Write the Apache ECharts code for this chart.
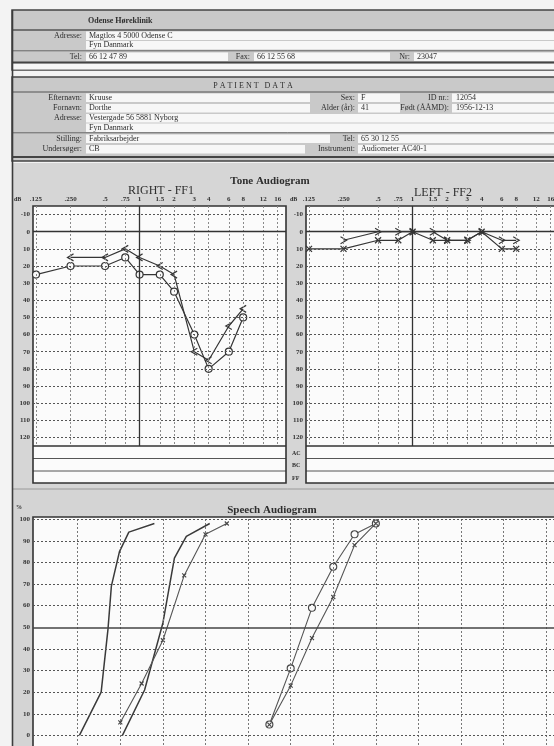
<!DOCTYPE html>
<html>
<head>
<meta charset="utf-8">
<script src="https://cdn.jsdelivr.net/npm/echarts@6/dist/echarts.min.js"></script>
<style>
  html, body { margin: 0; padding: 0; overflow: hidden; background: #f3f3f3; }
  #c { width: 562px; height: 800px; }
</style>
</head>
<body>
<div id="c"></div>
<script>
// ---- Tone audiogram axes ----
const toneFreqs = [125, 250, 500, 750, 1000, 1500, 2000, 3000, 4000, 6000, 8000, 12000, 16000];
const toneFreqLabels = ['.125', '.250', '.5', '.75', '1', '1.5', '2', '3', '4', '6', '8', '12', '16'];
const dbTicks = [-10, 0, 10, 20, 30, 40, 50, 60, 70, 80, 90, 100, 110, 120];

// ---- RIGHT - FF1 ----
const rightAirFreq = [125, 250, 500, 750, 1000, 1500, 2000, 3000, 4000, 6000, 8000];
const rightAirDb   = [25, 20, 20, 15, 25, 25, 35, 60, 80, 70, 50];
const rightBoneFreq = [250, 500, 750, 1000, 1500, 2000, 3000, 4000, 6000, 8000];
const rightBoneDb   = [15, 15, 10, 15, 20, 25, 70, 75, 55, 45];

// ---- LEFT - FF2 ----
const leftAirFreq = [125, 250, 500, 750, 1000, 1500, 2000, 3000, 4000, 6000, 8000];
const leftAirDb   = [10, 10, 5, 5, 0, 5, 5, 5, 0, 10, 10];
const leftBoneFreq = [250, 500, 750, 1000, 1500, 2000, 3000, 4000, 6000, 8000];
const leftBoneDb   = [5, 0, 0, 0, 0, 5, 5, 0, 5, 5];

// ---- Speech audiogram ----
const speechDbTicks = [10, 20, 30, 40, 50, 60, 70, 80, 90, 100, 110, 120];
const speechPctTicks = [0, 10, 20, 30, 40, 50, 60, 70, 80, 90, 100];
const normRefADb  = [10.4, 15.5, 17.1, 17.9, 19.8, 22, 28];
const normRefAPct = [0, 20, 49, 69, 85, 94, 98];
const normRefBDb  = [20.5, 25.7, 30, 32.7, 35.5, 41];
const normRefBPct = [0, 21, 52, 82, 92, 98];
const speechRefCDb  = [20, 25, 30, 35, 40, 45];
const speechRefCPct = [6, 24, 44, 74, 93, 98];
const speechRightDb  = [55, 60, 65, 70, 75, 80];
const speechRightPct = [5, 31, 59, 78, 93, 98];
const speechLeftDb  = [55, 60, 65, 70, 75, 80];
const speechLeftPct = [5, 23, 45, 64, 88, 98];

const zip = (a, b) => a.map((v, i) => [v, b[i]]);

const INK = '#353535';
const SERIF = '"Liberation Serif", "DejaVu Serif", serif';

// ---- form drawing helpers ----
const rectEl = (x, y, w, h, fill, stroke, lw, z) => ({
  type: 'rect', silent: true, z: z == null ? -5 : z,
  shape: { x, y, width: w, height: h },
  style: { fill: fill || 'none', stroke: stroke || 'none', lineWidth: lw || 0 }
});
const lineEl = (x1, y1, x2, y2, stroke, lw, z) => ({
  type: 'line', silent: true, z: z == null ? -4 : z,
  shape: { x1, y1, x2, y2 },
  style: { stroke, lineWidth: lw }
});
const textEl = (x, y, text, opt) => ({
  type: 'text', silent: true, z: 6, x, y,
  style: Object.assign({
    text, fill: '#2e2e2e', font: '8px ' + SERIF,
    textAlign: 'left', align: 'left', textVerticalAlign: 'middle', verticalAlign: 'middle'
  }, opt || {})
});
const rText = (x, y, text, opt) => textEl(x, y, text, Object.assign({ textAlign: 'right', align: 'right' }, opt || {}));
const cText = (x, y, text, opt) => textEl(x, y, text, Object.assign({ textAlign: 'center', align: 'center' }, opt || {}));

const GRAY = '#c9c9c9';
const FIELD = '#f7f7f7';
const g = [];

// clinic header
g.push(rectEl(12, 10, 560, 60, GRAY, '#444', 1.5));
g.push(textEl(88, 21, 'Odense Høreklinik', { font: 'bold 8px ' + SERIF }));
g.push(lineEl(12, 30, 572, 30, '#555', 1.5));
g.push(rectEl(86, 31.5, 480, 8.5, FIELD));
g.push(rectEl(86, 41, 480, 8.5, FIELD));
g.push(lineEl(12, 50.8, 572, 50.8, '#666', 1));
g.push(rectEl(86, 52.5, 142, 8.5, FIELD));
g.push(rectEl(254, 52.5, 136, 8.5, FIELD));
g.push(rectEl(414, 52.5, 160, 8.5, FIELD));
g.push(lineEl(12, 62.5, 572, 62.5, '#444', 2));
g.push(rectEl(13, 63.5, 560, 6, FIELD));
g.push(rText(82, 36, 'Adresse:'));
g.push(textEl(89, 36, 'Magtlos 4 5000 Odense C'));
g.push(textEl(89, 45.3, 'Fyn Danmark'));
g.push(rText(82, 57, 'Tel:'));
g.push(textEl(89, 57, '66 12 47 89'));
g.push(rText(250, 57, 'Fax:'));
g.push(textEl(257, 57, '66 12 55 68'));
g.push(rText(410, 57, 'Nr:'));
g.push(textEl(417, 57, '23047'));

// patient data block
g.push(rectEl(12, 77, 560, 84, GRAY, '#444', 1.5));
g.push(cText(253, 85.5, 'P A T I E N T   D A T A', { font: '8px ' + SERIF }));
g.push(lineEl(12, 92, 572, 92, '#555', 1.2));
const rowsY = [93.5, 104, 114, 123.5, 134.5, 145];
g.push(rectEl(86, rowsY[0], 224, 8.5, FIELD));
g.push(rectEl(358, rowsY[0], 42, 8.5, FIELD));
g.push(rectEl(452, rowsY[0], 120, 8.5, FIELD));
g.push(rectEl(86, rowsY[1], 224, 8.5, FIELD));
g.push(rectEl(358, rowsY[1], 42, 8.5, FIELD));
g.push(rectEl(452, rowsY[1], 120, 8.5, FIELD));
g.push(rectEl(86, rowsY[2], 486, 8.5, FIELD));
g.push(rectEl(86, rowsY[3], 486, 8.5, FIELD));
g.push(lineEl(12, 132.8, 572, 132.8, '#666', 1));
g.push(rectEl(86, rowsY[4], 244, 8.5, FIELD));
g.push(rectEl(358, rowsY[4], 214, 8.5, FIELD));
g.push(rectEl(86, rowsY[5], 219, 8.5, FIELD));
g.push(rectEl(358, rowsY[5], 214, 8.5, FIELD));
g.push(lineEl(12, 157, 572, 157, '#444', 2));
const ry = rowsY.map(v => v + 4.4);
g.push(rText(82, ry[0], 'Efternavn:'));  g.push(textEl(89, ry[0], 'Kruuse'));
g.push(rText(355, ry[0], 'Sex:'));       g.push(textEl(361, ry[0], 'F'));
g.push(rText(449, ry[0], 'ID nr.:'));    g.push(textEl(456, ry[0], '12054'));
g.push(rText(82, ry[1], 'Fornavn:'));    g.push(textEl(89, ry[1], 'Dorthe'));
g.push(rText(355, ry[1], 'Alder (år):')); g.push(textEl(361, ry[1], '41'));
g.push(rText(449, ry[1], 'Født (ÅÅMD):')); g.push(textEl(456, ry[1], '1956-12-13'));
g.push(rText(82, ry[2], 'Adresse:'));    g.push(textEl(89, ry[2], 'Vestergade 56 5881 Nyborg'));
g.push(textEl(89, ry[3], 'Fyn Danmark'));
g.push(rText(82, ry[4], 'Stilling:'));   g.push(textEl(89, ry[4], 'Fabriksarbejder'));
g.push(rText(355, ry[4], 'Tel:'));       g.push(textEl(361, ry[4], '65 30 12 55'));
g.push(rText(82, ry[5], 'Undersøger:')); g.push(textEl(89, ry[5], 'CB'));
g.push(rText(355, ry[5], 'Instrument:')); g.push(textEl(361, ry[5], 'Audiometer AC40-1'));

// tone audiogram section
g.push(rectEl(12, 163, 560, 326, '#d6d6d6'));
g.push(cText(270, 181, 'Tone Audiogram', { font: 'bold 11px ' + SERIF }));
g.push(cText(161, 191, 'RIGHT - FF1', { font: '12px ' + SERIF }));
g.push(cText(443, 192.5, 'LEFT - FF2', { font: '12px ' + SERIF }));
g.push(textEl(14, 199, 'dB', { font: 'bold 6px ' + SERIF }));
g.push(textEl(290, 199, 'dB', { font: 'bold 6px ' + SERIF }));
[33, 306].forEach(x0 => {
  g.push(rectEl(x0, 206, 253, 277, '#fbfbfb'));
  g.push(lineEl(x0, 446, x0 + 253, 446, '#333', 1.6, 3));
  g.push(lineEl(x0, 458.5, x0 + 253, 458.5, '#555', 1, 3));
  g.push(lineEl(x0, 471, x0 + 253, 471, '#555', 1, 3));
  g.push(rectEl(x0, 206, 253, 277, null, '#333', 1.6, 3));
});
g.push(textEl(292, 453, 'AC', { font: 'bold 6px ' + SERIF }));
g.push(textEl(292, 465, 'BC', { font: 'bold 6px ' + SERIF }));
g.push(textEl(292, 478, 'FF', { font: 'bold 6px ' + SERIF }));

// speech audiogram section
g.push(rectEl(12, 489, 560, 320, '#d4d4d4'));
g.push(lineEl(12, 489, 572, 489, '#9a9a9a', 1));
g.push(cText(272, 510, 'Speech Audiogram', { font: 'bold 11px ' + SERIF }));
g.push(textEl(16, 507, '%', { font: 'bold 6px ' + SERIF }));
g.push(rectEl(33, 517, 526, 260, '#fbfbfb'));
g.push(rectEl(33, 517, 526, 260, null, '#333', 1.6, 3));

// left border of the form
g.push(lineEl(12.5, 10, 12.5, 800, '#3c3c3c', 1.6, 3));

// ---- axis / grid helpers ----
const freqMin = 117.7, freqMax = 18900;
const labelFont = { fontSize: 7, fontFamily: SERIF, fontWeight: 'bold', color: '#333' };

function toneX(gridIndex) {
  return {
    type: 'log', logBase: 2, gridIndex, min: freqMin, max: freqMax, position: 'top',
    axisLine: { show: false }, axisTick: { show: false },
    splitLine: { show: false }, minorSplitLine: { show: false },
    axisLabel: Object.assign({
      customValues: toneFreqs, margin: 3,
      formatter: v => {
        const i = toneFreqs.findIndex(f => Math.abs(f - v) < 1);
        return i < 0 ? '' : toneFreqLabels[i];
      }
    }, labelFont)
  };
}
function toneY(gridIndex) {
  return {
    type: 'value', gridIndex, inverse: true, min: -15, max: 125,
    axisLine: { show: false }, axisTick: { show: false }, splitLine: { show: false },
    axisLabel: Object.assign({ customValues: dbTicks, margin: 3 }, labelFont)
  };
}
function toneGridLines() {
  const v = toneFreqs.map(f => ({
    xAxis: f,
    lineStyle: f === 1000
      ? { color: '#333', width: 1.3, type: 'solid' }
      : { color: '#8a8a8a', width: 1, type: [2, 2] }
  }));
  const h = dbTicks.map(d => ({
    yAxis: d,
    lineStyle: d === 0
      ? { color: '#333', width: 1.4, type: 'solid' }
      : { color: '#555', width: 1, type: [2, 2] }
  }));
  return { silent: true, symbol: 'none', animation: false, label: { show: false }, data: v.concat(h) };
}

const chevronLeft = 'path://M10,0 L0,5 L10,10';
const chevronRight = 'path://M0,0 L10,5 L0,10';
const cross = 'path://M0,0 L10,10 M10,0 L0,10';

const lineBase = (xi, yi, data, extra) => Object.assign({
  type: 'line', xAxisIndex: xi, yAxisIndex: yi, data,
  animation: false, z: 4,
  lineStyle: { color: INK, width: 1.2 }
}, extra);

const chart = echarts.init(document.getElementById('c'), null, { renderer: 'canvas', width: 562, height: 800 });
chart.setOption({
  backgroundColor: '#f3f3f3',
  animation: false,
  graphic: { elements: g },
  grid: [
    { left: 33, top: 206, width: 253, height: 240 },
    { left: 306, top: 206, width: 253, height: 240 },
    { left: 33, top: 517, width: 526, height: 240 }
  ],
  xAxis: [
    toneX(0), toneX(1),
    { type: 'value', gridIndex: 2, min: -0.5, max: 123,
      axisLine: { show: false }, axisTick: { show: false }, splitLine: { show: false }, axisLabel: { show: false } }
  ],
  yAxis: [
    toneY(0), toneY(1),
    { type: 'value', gridIndex: 2, min: -10, max: 101,
      axisLine: { show: false }, axisTick: { show: false }, splitLine: { show: false },
      axisLabel: Object.assign({ customValues: speechPctTicks, margin: 3 }, labelFont) }
  ],
  series: [
    // right ear
    lineBase(0, 0, zip(rightAirFreq, rightAirDb), {
      symbol: 'circle', symbolSize: 7,
      itemStyle: { color: '#fafafa', borderColor: INK, borderWidth: 1.2 },
      markLine: toneGridLines()
    }),
    lineBase(0, 0, zip(rightBoneFreq, rightBoneDb), {
      symbol: chevronLeft, symbolSize: [6, 7],
      itemStyle: { color: 'rgba(0,0,0,0)', borderColor: INK, borderWidth: 1.2 }
    }),
    // left ear
    lineBase(1, 1, zip(leftAirFreq, leftAirDb), {
      symbol: cross, symbolSize: 6,
      itemStyle: { color: 'rgba(0,0,0,0)', borderColor: INK, borderWidth: 1.3 },
      markLine: toneGridLines()
    }),
    lineBase(1, 1, zip(leftBoneFreq, leftBoneDb), {
      symbol: chevronRight, symbolSize: [6, 7],
      itemStyle: { color: 'rgba(0,0,0,0)', borderColor: INK, borderWidth: 1.2 }
    }),
    // speech
    lineBase(2, 2, zip(normRefADb, normRefAPct), {
      symbol: 'none', lineStyle: { color: '#3a3a3a', width: 1.5 },
      markLine: {
        silent: true, symbol: 'none', animation: false, label: { show: false },
        data: speechDbTicks.map(x => ({ xAxis: x, lineStyle: { color: '#777', width: 1, type: [2, 2] } }))
          .concat(speechPctTicks.map(p => ({
            yAxis: p,
            lineStyle: p === 50 ? { color: '#444', width: 1.5, type: 'solid' } : { color: '#555', width: 1, type: [2, 2] }
          })))
      }
    }),
    lineBase(2, 2, zip(normRefBDb, normRefBPct), {
      symbol: 'none', lineStyle: { color: '#3a3a3a', width: 1.5 }
    }),
    lineBase(2, 2, zip(speechRefCDb, speechRefCPct), {
      symbol: cross, symbolSize: 4,
      lineStyle: { color: '#555', width: 1.1 },
      itemStyle: { color: 'rgba(0,0,0,0)', borderColor: '#444', borderWidth: 1.1 }
    }),
    lineBase(2, 2, zip(speechRightDb, speechRightPct), {
      symbol: 'circle', symbolSize: 7,
      lineStyle: { color: '#555', width: 1.1 },
      itemStyle: { color: '#fafafa', borderColor: '#444', borderWidth: 1.1 }
    }),
    lineBase(2, 2, zip(speechLeftDb, speechLeftPct), {
      symbol: cross, symbolSize: 4,
      lineStyle: { color: '#555', width: 1.1 },
      itemStyle: { color: 'rgba(0,0,0,0)', borderColor: '#444', borderWidth: 1.1 }
    })
  ]
});
</script>
</body>
</html>
